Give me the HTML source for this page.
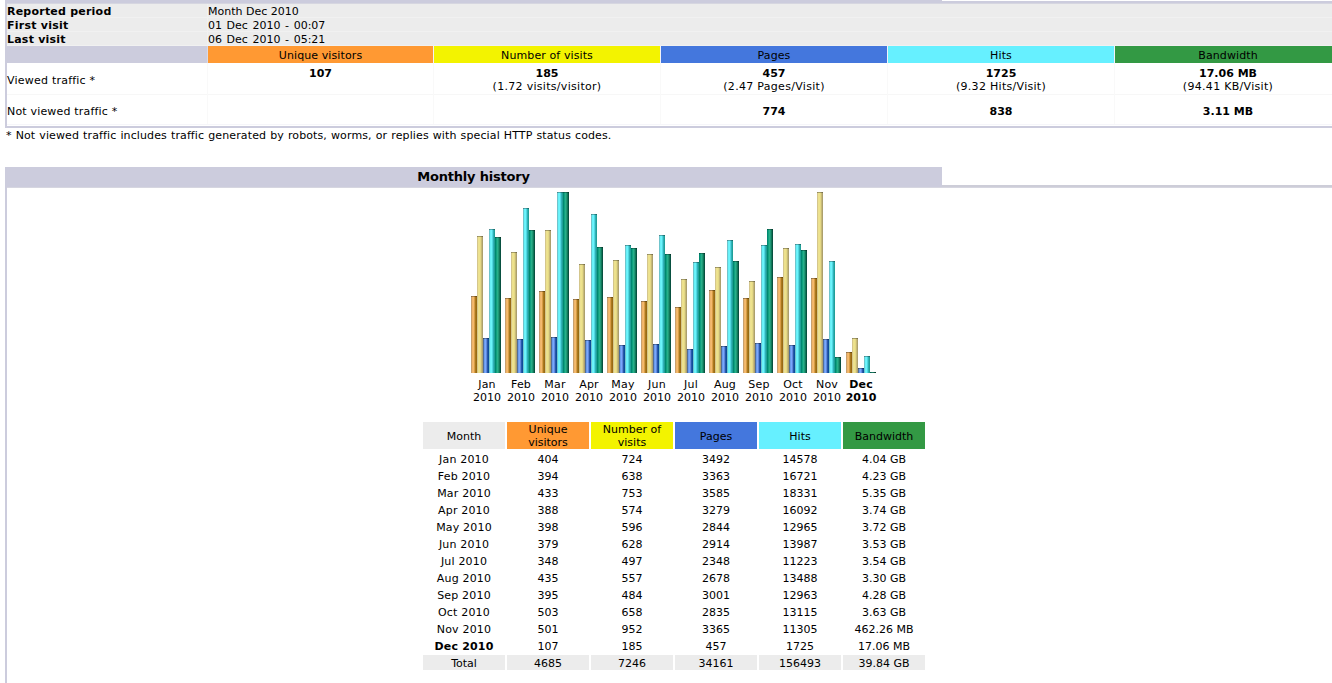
<!DOCTYPE html>
<html><head><meta charset="utf-8"><title>Statistics</title>
<style>
html,body{margin:0;padding:0;background:#fff;}
body{width:1332px;height:683px;overflow:hidden;position:relative;font:11px "DejaVu Sans","Liberation Sans",sans-serif;color:#000;}
.a{position:absolute;}
.t{position:absolute;white-space:nowrap;line-height:13px;height:13px;}
.c{text-align:center;}
.b{font-weight:bold;}
.bar{position:absolute;width:6px;}
.vu{background:linear-gradient(rgba(0,0,0,.3),rgba(0,0,0,.3)) 0 0/100% 1px no-repeat,linear-gradient(90deg,#c8a070 8.3%,#f0b56a 25%,#f4ba6e 41.7%,#d89c44 58.3%,#a87820 75%,#9a6a12 91.7%);}
.vv{background:linear-gradient(rgba(0,0,0,.3),rgba(0,0,0,.3)) 0 0/100% 1px no-repeat,linear-gradient(90deg,#d4c68c 8.3%,#ece090 25%,#ede28c 41.7%,#e4d884 58.3%,#c8ba78 75%,#aca06c 91.7%);}
.vp{background:linear-gradient(rgba(0,0,0,.3),rgba(0,0,0,.3)) 0 0/100% 1px no-repeat,linear-gradient(90deg,#506c98 8.3%,#6c9ce8 25%,#78a8ff 41.7%,#6088dc 58.3%,#2858a8 75%,#0c4c9c 91.7%);}
.vh{background:linear-gradient(rgba(0,0,0,.3),rgba(0,0,0,.3)) 0 0/100% 1px no-repeat,linear-gradient(90deg,#70c4cc 8.3%,#68f0f8 25%,#6cf4fc 41.7%,#50d8e0 58.3%,#30b0b8 75%,#20a098 91.7%);}
.vk{background:linear-gradient(rgba(0,0,0,.3),rgba(0,0,0,.3)) 0 0/100% 1px no-repeat,linear-gradient(90deg,#008870 8.3%,#10a080 25%,#28b088 41.7%,#209878 58.3%,#107858 75%,#085040 91.7%);}
</style></head>
<body>
<div class="a" style="left:5px;top:0px;width:937px;height:1px;background:#ccccdd;"></div>
<div class="a" style="left:5px;top:1px;width:1327px;height:2px;background:#ccccdd;"></div>
<div class="a" style="left:7px;top:3px;width:1325px;height:1px;background:#d6d6e0;"></div>
<div class="a" style="left:5px;top:0px;width:2px;height:128px;background:#ccccdd;"></div>
<div class="a" style="left:7px;top:4px;width:1325px;height:42px;background:#ececec;"></div>
<div class="a" style="left:7px;top:17px;width:1325px;height:1px;background:#f1f1f1;"></div>
<div class="a" style="left:7px;top:31px;width:1325px;height:1px;background:#f1f1f1;"></div>
<div class="a" style="left:7px;top:45px;width:1325px;height:1px;background:#f1f1f1;"></div>
<div class="a" style="left:207px;top:4px;width:1px;height:42px;background:#f1f1f1;"></div>
<div class="a" style="left:7px;top:46px;width:1325px;height:17px;background:#ccccdd;"></div>
<div class="a" style="left:207px;top:46px;width:1px;height:17px;background:#dadae6;"></div>
<div class="a" style="left:208px;top:46px;width:225px;height:17px;background:#ff9933;"></div>
<div class="a" style="left:433px;top:46px;width:1px;height:17px;background:#f2f2f8;"></div>
<div class="t c" style="left:208px;top:49px;width:225px;letter-spacing:0.1px;">Unique visitors</div>
<div class="a" style="left:434px;top:46px;width:226px;height:17px;background:#f3f300;"></div>
<div class="a" style="left:660px;top:46px;width:1px;height:17px;background:#f2f2f8;"></div>
<div class="t c" style="left:434px;top:49px;width:226px;letter-spacing:0.1px;">Number of visits</div>
<div class="a" style="left:661px;top:46px;width:226px;height:17px;background:#4477dd;"></div>
<div class="a" style="left:887px;top:46px;width:1px;height:17px;background:#f2f2f8;"></div>
<div class="t c" style="left:661px;top:49px;width:226px;letter-spacing:0.1px;">Pages</div>
<div class="a" style="left:888px;top:46px;width:226px;height:17px;background:#66f0ff;"></div>
<div class="a" style="left:1114px;top:46px;width:1px;height:17px;background:#f2f2f8;"></div>
<div class="t c" style="left:888px;top:49px;width:226px;letter-spacing:0.1px;">Hits</div>
<div class="a" style="left:1115px;top:46px;width:226px;height:17px;background:#339944;"></div>
<div class="a" style="left:1341px;top:46px;width:1px;height:17px;background:#f2f2f8;"></div>
<div class="t c" style="left:1115px;top:49px;width:226px;letter-spacing:0.1px;">Bandwidth</div>
<div class="a" style="left:7px;top:63px;width:1325px;height:63px;background:#ffffff;"></div>
<div class="a" style="left:7px;top:94px;width:1325px;height:1px;background:#f7f7f7;"></div>
<div class="a" style="left:207px;top:63px;width:1px;height:62px;background:#f9f9f9;"></div>
<div class="a" style="left:433px;top:63px;width:1px;height:62px;background:#f9f9f9;"></div>
<div class="a" style="left:660px;top:63px;width:1px;height:62px;background:#f9f9f9;"></div>
<div class="a" style="left:887px;top:63px;width:1px;height:62px;background:#f9f9f9;"></div>
<div class="a" style="left:1114px;top:63px;width:1px;height:62px;background:#f9f9f9;"></div>
<div class="a" style="left:1341px;top:63px;width:1px;height:62px;background:#f9f9f9;"></div>
<div class="a" style="left:7px;top:124px;width:1325px;height:1px;background:#f6f6fa;"></div>
<div class="a" style="left:5px;top:126px;width:1327px;height:2px;background:#ccccdd;"></div>
<div class="t b" style="left:7px;top:5px;letter-spacing:0.22px;">Reported period</div>
<div class="t b" style="left:7px;top:19px;letter-spacing:0.25px;">First visit</div>
<div class="t b" style="left:7px;top:33px;letter-spacing:0.22px;">Last visit</div>
<div class="t " style="left:208px;top:5px;">Month Dec 2010</div>
<div class="t " style="left:208px;top:19px;word-spacing:1.1px;">01 Dec 2010 - 00:07</div>
<div class="t " style="left:208px;top:33px;word-spacing:1.1px;">06 Dec 2010 - 05:21</div>
<div class="t " style="left:7px;top:74px;letter-spacing:0.22px;">Viewed traffic *</div>
<div class="t " style="left:7px;top:105px;letter-spacing:0.18px;">Not viewed traffic *</div>
<div class="t c b" style="left:208px;top:67px;width:225px;">107</div>
<div class="t c b" style="left:434px;top:67px;width:226px;">185</div>
<div class="t c" style="left:434px;top:80px;width:226px;letter-spacing:0.3px;">(1.72 visits/visitor)</div>
<div class="t c b" style="left:661px;top:67px;width:226px;">457</div>
<div class="t c" style="left:661px;top:80px;width:226px;letter-spacing:0.3px;">(2.47 Pages/Visit)</div>
<div class="t c b" style="left:888px;top:67px;width:226px;">1725</div>
<div class="t c" style="left:888px;top:80px;width:226px;letter-spacing:0.3px;">(9.32 Hits/Visit)</div>
<div class="t c b" style="left:1115px;top:67px;width:226px;">17.06 MB</div>
<div class="t c" style="left:1115px;top:80px;width:226px;letter-spacing:0.3px;">(94.41 KB/Visit)</div>
<div class="t c b" style="left:661px;top:105px;width:226px;">774</div>
<div class="t c b" style="left:888px;top:105px;width:226px;">838</div>
<div class="t c b" style="left:1115px;top:105px;width:226px;">3.11 MB</div>
<div class="t " style="left:6px;top:129px;word-spacing:0.4px;letter-spacing:0.12px;">* Not viewed traffic includes traffic generated by robots, worms, or replies with special HTTP status codes.</div>
<div class="a" style="left:5px;top:167px;width:937px;height:20px;background:#ccccdd;"></div>
<div class="a" style="left:942px;top:185px;width:390px;height:2px;background:#cdcdd8;"></div>
<div class="a" style="left:7px;top:187px;width:1325px;height:1px;background:#d6d6e0;"></div>
<div class="a" style="left:5px;top:167px;width:2px;height:516px;background:#ccccdd;"></div>
<div class="t c b" style="left:5px;top:169px;width:937px;font-size:13px;line-height:16px;height:16px;letter-spacing:-0.2px;">Monthly history</div>
<div class="bar vu" style="left:471px;top:296px;height:77px"></div>
<div class="bar vv" style="left:477px;top:236px;height:137px"></div>
<div class="bar vp" style="left:483px;top:338px;height:35px"></div>
<div class="bar vh" style="left:489px;top:229px;height:144px"></div>
<div class="bar vk" style="left:495px;top:237px;height:136px"></div>
<div class="t c" style="left:470px;top:378px;width:34px;letter-spacing:0.2px;">Jan</div>
<div class="t c" style="left:470px;top:391px;width:34px;">2010</div>
<div class="bar vu" style="left:505px;top:298px;height:75px"></div>
<div class="bar vv" style="left:511px;top:252px;height:121px"></div>
<div class="bar vp" style="left:517px;top:339px;height:34px"></div>
<div class="bar vh" style="left:523px;top:208px;height:165px"></div>
<div class="bar vk" style="left:529px;top:230px;height:143px"></div>
<div class="t c" style="left:504px;top:378px;width:34px;letter-spacing:0.2px;">Feb</div>
<div class="t c" style="left:504px;top:391px;width:34px;">2010</div>
<div class="bar vu" style="left:539px;top:291px;height:82px"></div>
<div class="bar vv" style="left:545px;top:230px;height:143px"></div>
<div class="bar vp" style="left:551px;top:337px;height:36px"></div>
<div class="bar vh" style="left:557px;top:192px;height:181px"></div>
<div class="bar vk" style="left:563px;top:192px;height:181px"></div>
<div class="t c" style="left:538px;top:378px;width:34px;letter-spacing:0.2px;">Mar</div>
<div class="t c" style="left:538px;top:391px;width:34px;">2010</div>
<div class="bar vu" style="left:573px;top:299px;height:74px"></div>
<div class="bar vv" style="left:579px;top:264px;height:109px"></div>
<div class="bar vp" style="left:585px;top:340px;height:33px"></div>
<div class="bar vh" style="left:591px;top:214px;height:159px"></div>
<div class="bar vk" style="left:597px;top:247px;height:126px"></div>
<div class="t c" style="left:572px;top:378px;width:34px;letter-spacing:0.2px;">Apr</div>
<div class="t c" style="left:572px;top:391px;width:34px;">2010</div>
<div class="bar vu" style="left:607px;top:297px;height:76px"></div>
<div class="bar vv" style="left:613px;top:260px;height:113px"></div>
<div class="bar vp" style="left:619px;top:345px;height:28px"></div>
<div class="bar vh" style="left:625px;top:245px;height:128px"></div>
<div class="bar vk" style="left:631px;top:248px;height:125px"></div>
<div class="t c" style="left:606px;top:378px;width:34px;letter-spacing:0.2px;">May</div>
<div class="t c" style="left:606px;top:391px;width:34px;">2010</div>
<div class="bar vu" style="left:641px;top:301px;height:72px"></div>
<div class="bar vv" style="left:647px;top:254px;height:119px"></div>
<div class="bar vp" style="left:653px;top:344px;height:29px"></div>
<div class="bar vh" style="left:659px;top:235px;height:138px"></div>
<div class="bar vk" style="left:665px;top:254px;height:119px"></div>
<div class="t c" style="left:640px;top:378px;width:34px;letter-spacing:0.2px;">Jun</div>
<div class="t c" style="left:640px;top:391px;width:34px;">2010</div>
<div class="bar vu" style="left:675px;top:307px;height:66px"></div>
<div class="bar vv" style="left:681px;top:279px;height:94px"></div>
<div class="bar vp" style="left:687px;top:349px;height:24px"></div>
<div class="bar vh" style="left:693px;top:262px;height:111px"></div>
<div class="bar vk" style="left:699px;top:253px;height:120px"></div>
<div class="t c" style="left:674px;top:378px;width:34px;letter-spacing:0.2px;">Jul</div>
<div class="t c" style="left:674px;top:391px;width:34px;">2010</div>
<div class="bar vu" style="left:709px;top:290px;height:83px"></div>
<div class="bar vv" style="left:715px;top:267px;height:106px"></div>
<div class="bar vp" style="left:721px;top:346px;height:27px"></div>
<div class="bar vh" style="left:727px;top:240px;height:133px"></div>
<div class="bar vk" style="left:733px;top:261px;height:112px"></div>
<div class="t c" style="left:708px;top:378px;width:34px;letter-spacing:0.2px;">Aug</div>
<div class="t c" style="left:708px;top:391px;width:34px;">2010</div>
<div class="bar vu" style="left:743px;top:298px;height:75px"></div>
<div class="bar vv" style="left:749px;top:281px;height:92px"></div>
<div class="bar vp" style="left:755px;top:343px;height:30px"></div>
<div class="bar vh" style="left:761px;top:245px;height:128px"></div>
<div class="bar vk" style="left:767px;top:229px;height:144px"></div>
<div class="t c" style="left:742px;top:378px;width:34px;letter-spacing:0.2px;">Sep</div>
<div class="t c" style="left:742px;top:391px;width:34px;">2010</div>
<div class="bar vu" style="left:777px;top:277px;height:96px"></div>
<div class="bar vv" style="left:783px;top:248px;height:125px"></div>
<div class="bar vp" style="left:789px;top:345px;height:28px"></div>
<div class="bar vh" style="left:795px;top:244px;height:129px"></div>
<div class="bar vk" style="left:801px;top:250px;height:123px"></div>
<div class="t c" style="left:776px;top:378px;width:34px;letter-spacing:0.2px;">Oct</div>
<div class="t c" style="left:776px;top:391px;width:34px;">2010</div>
<div class="bar vu" style="left:811px;top:278px;height:95px"></div>
<div class="bar vv" style="left:817px;top:192px;height:181px"></div>
<div class="bar vp" style="left:823px;top:339px;height:34px"></div>
<div class="bar vh" style="left:829px;top:261px;height:112px"></div>
<div class="bar vk" style="left:835px;top:357px;height:16px"></div>
<div class="t c" style="left:810px;top:378px;width:34px;letter-spacing:0.2px;">Nov</div>
<div class="t c" style="left:810px;top:391px;width:34px;">2010</div>
<div class="bar vu" style="left:846px;top:352px;height:21px"></div>
<div class="bar vv" style="left:852px;top:338px;height:35px"></div>
<div class="bar vp" style="left:858px;top:368px;height:5px"></div>
<div class="bar vh" style="left:864px;top:356px;height:17px"></div>
<div class="bar vk" style="left:870px;top:372px;height:1px"></div>
<div class="t c b" style="left:844px;top:378px;width:34px;letter-spacing:0.2px;">Dec</div>
<div class="t c b" style="left:844px;top:391px;width:34px;">2010</div>
<div class="a" style="left:423px;top:422px;width:82px;height:27px;background:#ececec;"></div>
<div class="t c" style="left:423px;top:430px;width:82px;">Month</div>
<div class="a" style="left:507px;top:422px;width:82px;height:27px;background:#ff9933;"></div>
<div class="t c" style="left:507px;top:423px;width:82px;">Unique</div>
<div class="t c" style="left:507px;top:436px;width:82px;">visitors</div>
<div class="a" style="left:591px;top:422px;width:82px;height:27px;background:#f3f300;"></div>
<div class="t c" style="left:591px;top:423px;width:82px;">Number of</div>
<div class="t c" style="left:591px;top:436px;width:82px;">visits</div>
<div class="a" style="left:675px;top:422px;width:82px;height:27px;background:#4477dd;"></div>
<div class="t c" style="left:675px;top:430px;width:82px;">Pages</div>
<div class="a" style="left:759px;top:422px;width:82px;height:27px;background:#66f0ff;"></div>
<div class="t c" style="left:759px;top:430px;width:82px;">Hits</div>
<div class="a" style="left:843px;top:422px;width:82px;height:27px;background:#339944;"></div>
<div class="t c" style="left:843px;top:430px;width:82px;">Bandwidth</div>
<div class="t c" style="left:423px;top:453px;width:82px;letter-spacing:0.18px;">Jan 2010</div>
<div class="t c" style="left:507px;top:453px;width:82px;">404</div>
<div class="t c" style="left:591px;top:453px;width:82px;">724</div>
<div class="t c" style="left:675px;top:453px;width:82px;">3492</div>
<div class="t c" style="left:759px;top:453px;width:82px;">14578</div>
<div class="t c" style="left:843px;top:453px;width:82px;">4.04 GB</div>
<div class="t c" style="left:423px;top:470px;width:82px;letter-spacing:0.18px;">Feb 2010</div>
<div class="t c" style="left:507px;top:470px;width:82px;">394</div>
<div class="t c" style="left:591px;top:470px;width:82px;">638</div>
<div class="t c" style="left:675px;top:470px;width:82px;">3363</div>
<div class="t c" style="left:759px;top:470px;width:82px;">16721</div>
<div class="t c" style="left:843px;top:470px;width:82px;">4.23 GB</div>
<div class="t c" style="left:423px;top:487px;width:82px;letter-spacing:0.18px;">Mar 2010</div>
<div class="t c" style="left:507px;top:487px;width:82px;">433</div>
<div class="t c" style="left:591px;top:487px;width:82px;">753</div>
<div class="t c" style="left:675px;top:487px;width:82px;">3585</div>
<div class="t c" style="left:759px;top:487px;width:82px;">18331</div>
<div class="t c" style="left:843px;top:487px;width:82px;">5.35 GB</div>
<div class="t c" style="left:423px;top:504px;width:82px;letter-spacing:0.18px;">Apr 2010</div>
<div class="t c" style="left:507px;top:504px;width:82px;">388</div>
<div class="t c" style="left:591px;top:504px;width:82px;">574</div>
<div class="t c" style="left:675px;top:504px;width:82px;">3279</div>
<div class="t c" style="left:759px;top:504px;width:82px;">16092</div>
<div class="t c" style="left:843px;top:504px;width:82px;">3.74 GB</div>
<div class="t c" style="left:423px;top:521px;width:82px;letter-spacing:0.18px;">May 2010</div>
<div class="t c" style="left:507px;top:521px;width:82px;">398</div>
<div class="t c" style="left:591px;top:521px;width:82px;">596</div>
<div class="t c" style="left:675px;top:521px;width:82px;">2844</div>
<div class="t c" style="left:759px;top:521px;width:82px;">12965</div>
<div class="t c" style="left:843px;top:521px;width:82px;">3.72 GB</div>
<div class="t c" style="left:423px;top:538px;width:82px;letter-spacing:0.18px;">Jun 2010</div>
<div class="t c" style="left:507px;top:538px;width:82px;">379</div>
<div class="t c" style="left:591px;top:538px;width:82px;">628</div>
<div class="t c" style="left:675px;top:538px;width:82px;">2914</div>
<div class="t c" style="left:759px;top:538px;width:82px;">13987</div>
<div class="t c" style="left:843px;top:538px;width:82px;">3.53 GB</div>
<div class="t c" style="left:423px;top:555px;width:82px;letter-spacing:0.18px;">Jul 2010</div>
<div class="t c" style="left:507px;top:555px;width:82px;">348</div>
<div class="t c" style="left:591px;top:555px;width:82px;">497</div>
<div class="t c" style="left:675px;top:555px;width:82px;">2348</div>
<div class="t c" style="left:759px;top:555px;width:82px;">11223</div>
<div class="t c" style="left:843px;top:555px;width:82px;">3.54 GB</div>
<div class="t c" style="left:423px;top:572px;width:82px;letter-spacing:0.18px;">Aug 2010</div>
<div class="t c" style="left:507px;top:572px;width:82px;">435</div>
<div class="t c" style="left:591px;top:572px;width:82px;">557</div>
<div class="t c" style="left:675px;top:572px;width:82px;">2678</div>
<div class="t c" style="left:759px;top:572px;width:82px;">13488</div>
<div class="t c" style="left:843px;top:572px;width:82px;">3.30 GB</div>
<div class="t c" style="left:423px;top:589px;width:82px;letter-spacing:0.18px;">Sep 2010</div>
<div class="t c" style="left:507px;top:589px;width:82px;">395</div>
<div class="t c" style="left:591px;top:589px;width:82px;">484</div>
<div class="t c" style="left:675px;top:589px;width:82px;">3001</div>
<div class="t c" style="left:759px;top:589px;width:82px;">12963</div>
<div class="t c" style="left:843px;top:589px;width:82px;">4.28 GB</div>
<div class="t c" style="left:423px;top:606px;width:82px;letter-spacing:0.18px;">Oct 2010</div>
<div class="t c" style="left:507px;top:606px;width:82px;">503</div>
<div class="t c" style="left:591px;top:606px;width:82px;">658</div>
<div class="t c" style="left:675px;top:606px;width:82px;">2835</div>
<div class="t c" style="left:759px;top:606px;width:82px;">13115</div>
<div class="t c" style="left:843px;top:606px;width:82px;">3.63 GB</div>
<div class="t c" style="left:423px;top:623px;width:82px;letter-spacing:0.18px;">Nov 2010</div>
<div class="t c" style="left:507px;top:623px;width:82px;">501</div>
<div class="t c" style="left:591px;top:623px;width:82px;">952</div>
<div class="t c" style="left:675px;top:623px;width:82px;">3365</div>
<div class="t c" style="left:759px;top:623px;width:82px;">11305</div>
<div class="t c" style="left:843px;top:623px;width:82px;">462.26 MB</div>
<div class="t c b" style="left:423px;top:640px;width:82px;letter-spacing:0.18px;">Dec 2010</div>
<div class="t c" style="left:507px;top:640px;width:82px;">107</div>
<div class="t c" style="left:591px;top:640px;width:82px;">185</div>
<div class="t c" style="left:675px;top:640px;width:82px;">457</div>
<div class="t c" style="left:759px;top:640px;width:82px;">1725</div>
<div class="t c" style="left:843px;top:640px;width:82px;">17.06 MB</div>
<div class="a" style="left:423px;top:655px;width:82px;height:15px;background:#ececec;"></div>
<div class="t c" style="left:423px;top:657px;width:82px;">Total</div>
<div class="a" style="left:507px;top:655px;width:82px;height:15px;background:#ececec;"></div>
<div class="t c" style="left:507px;top:657px;width:82px;">4685</div>
<div class="a" style="left:591px;top:655px;width:82px;height:15px;background:#ececec;"></div>
<div class="t c" style="left:591px;top:657px;width:82px;">7246</div>
<div class="a" style="left:675px;top:655px;width:82px;height:15px;background:#ececec;"></div>
<div class="t c" style="left:675px;top:657px;width:82px;">34161</div>
<div class="a" style="left:759px;top:655px;width:82px;height:15px;background:#ececec;"></div>
<div class="t c" style="left:759px;top:657px;width:82px;">156493</div>
<div class="a" style="left:843px;top:655px;width:82px;height:15px;background:#ececec;"></div>
<div class="t c" style="left:843px;top:657px;width:82px;">39.84 GB</div>
</body></html>
